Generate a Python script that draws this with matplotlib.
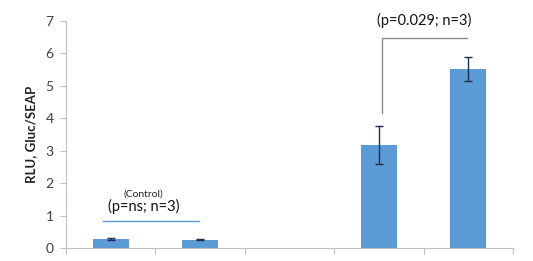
import matplotlib
matplotlib.use("Agg")
import matplotlib.pyplot as plt
import numpy as np

plt.rcParams['font.family'] = ['Lato', 'DejaVu Sans']

categories = ["A", "B", "C", "D", "E"]
values = [0.28, 0.26, np.nan, 3.18, 5.51]
errors = [0.03, 0.02, np.nan, 0.59, 0.36]
yticks = [0, 1, 2, 3, 4, 5, 6, 7]

fig = plt.figure(figsize=(5.33, 2.61), dpi=100)
ax = fig.add_axes([0.124, 0.0498, 0.8385, 0.871])
x = np.arange(len(categories))
ax.bar(x, values, width=0.4, color="#5b9bd5", zorder=2)
ax.errorbar(x, values, yerr=errors, fmt="none", ecolor="#1f2d4d", elinewidth=1, capsize=3, capthick=1, zorder=3)

ax.set_xlim(-0.5, 4.5)
ax.set_ylim(0, 7)
ax.set_yticks(yticks)
ax.set_xticks(np.arange(-0.5, 5.0, 1.0))
ax.set_xticklabels([])
for s in ["top", "right"]:
    ax.spines[s].set_visible(False)
for s in ["left", "bottom"]:
    ax.spines[s].set_color("#bfbfbf")
ax.tick_params(axis="y", colors="#bfbfbf", labelcolor="#404040", labelsize=10, length=4, width=0.8, pad=5)
ax.tick_params(axis="x", colors="#bfbfbf", length=4, width=0.8)
ax.set_ylabel("RLU, Gluc/SEAP", fontweight="bold", fontsize=9.5, color="#222222", labelpad=6)

# control annotation
ax.plot([-0.086, 0.988], [0.84, 0.84], color="#5b9bd5", lw=1, clip_on=False)
ax.text(0.369, 1.28, "(p=ns; n=3)", ha="center", va="center", fontsize=10.5, color="#111111")
ax.text(0.36, 1.66, "(Control)", ha="center", va="center", fontsize=7.5, color="#222222")

# significance bracket
ax.plot([3.03, 3.03, 3.99], [4.16, 6.46, 6.46], color="#8c8c8c", lw=1, clip_on=False)
ax.text(3.51, 7.0, "(p=0.029; n=3)", ha="center", va="center", fontsize=10.5, color="#111111", clip_on=False)

fig.savefig("out.png", dpi=100)
